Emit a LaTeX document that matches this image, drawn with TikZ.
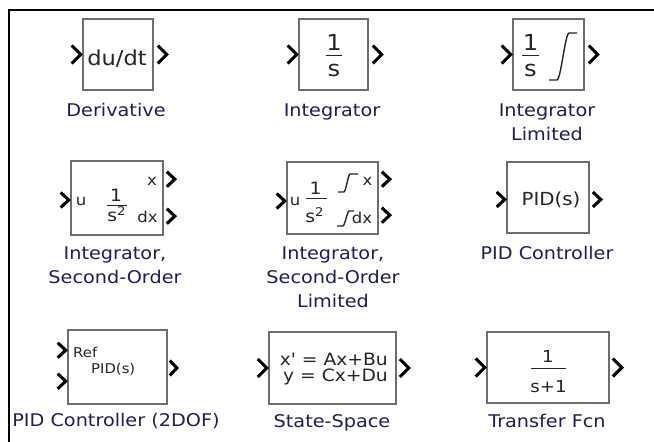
\documentclass[tikz,border=0pt]{standalone}
\usepackage{fontspec}
\usetikzlibrary{calc}
\newfontfamily\simfont{DejaVu Sans}[FakeStretch=1.1,Ligatures=TeXOff]
\definecolor{lblcol}{HTML}{1E1E5A}
\definecolor{ink}{HTML}{262626}
\definecolor{rim}{HTML}{6E6E6E}
\tikzset{
  blk/.style={draw=rim, line width=1.6pt, inner sep=0pt, fill=white},
  lbl/.style={text=lblcol, inner sep=0pt, align=center, font=\simfont\fontsize{17.5}{24}\selectfont},
  ico/.style={text=ink, inner sep=0pt, font=\simfont\fontsize{#1}{#1}\selectfont},
  ico/.default=16,
  bar/.style={draw=ink, line width=1.2pt},
  sat/.style={draw=ink, line width=1.4pt, line join=round},
  port/.style={draw=black, line width=3.1pt, line join=miter},
  pics/chev/.style 2 args={code={\draw[port] (-#1,-#2) -- (0,0) -- (-#1,#2);}},
}
\begin{document}
\begin{tikzpicture}[x=1pt,y=-1pt]
\useasboundingbox (0,0) rectangle (654,442);
\fill[white] (0,0) rectangle (654,442);
% outer frame
\draw[black, line width=2pt] (9,442) -- (9,10) -- (654,10);

% ---------- row 1 ----------
\node[blk, minimum width=70pt, minimum height=71pt] (der) at (118,54.5) {};
\node[ico=20.5, anchor=base] (derT) at (117,65) {du/dt};
\pic at ($(der.west)+(-1.5,0)$) {chev={9}{9}};
\pic at ($(der.east)+(13,0)$) {chev={9}{9}};
\node[lbl, anchor=base] (derL) at (116,116) {Derivative};

\node[blk, minimum width=69pt, minimum height=71pt] (int) at (333.5,54.5) {};
\node[ico=22, anchor=base] (intN) at (334,50) {1};
\node[ico=22, anchor=base] (intD) at (334,76) {s};
\draw[bar] (326,55.5) -- (342,55.5);
\pic at ($(int.west)+(-1.5,0)$) {chev={9}{9}};
\pic at ($(int.east)+(13,0)$) {chev={9}{9}};
\node[lbl, anchor=base] (intL) at (332,116) {Integrator};

\node[blk, minimum width=71pt, minimum height=71pt] (intlim) at (548.5,54.5) {};
\node[ico=22, anchor=base] (intlimN) at (530.5,50) {1};
\node[ico=22, anchor=base] (intlimD) at (530.5,76) {s};
\draw[bar] (522,55.5) -- (539,55.5);
\draw[sat] (549,80) -- (557,80) .. controls (561,79) and (565,34) .. (569,33) -- (577,33);
\pic at ($(intlim.west)+(-1.5,0)$) {chev={9}{9}};
\pic at ($(intlim.east)+(13,0)$) {chev={9}{9}};
% multi-line labels: the base anchor sits on the last line
\node[lbl, anchor=base] (intlimL) at (547,140) {Integrator\\Limited};

% ---------- row 2 ----------
\node[blk, minimum width=92pt, minimum height=74pt] (sec) at (117,198) {};
\node[ico=15, anchor=base] (secU) at (81,205) {u};
\node[ico=17, anchor=base] (secN) at (116,201) {1};
\draw[bar] (107,205.5) -- (127,205.5);
\node[ico=17, anchor=base] (secD) at (116.5,221) {s\raisebox{6pt}{\fontsize{12}{12}\selectfont 2}};
\node[ico=15, anchor=base] (secX) at (152,185) {x};
\node[ico=15, anchor=base] (secDX) at (147.5,222) {dx};
\pic at ($(sec.west)+(-1.5,2)$) {chev={8}{7.5}};
\pic at ($(sec.north east)+(11,19)$) {chev={8}{7.5}};
\pic at ($(sec.north east)+(11,56)$) {chev={8}{7.5}};
\node[lbl, anchor=base] (secL) at (115,283) {Integrator,\\Second-Order};

\node[blk, minimum width=91pt, minimum height=72pt] (seclim) at (332.5,198) {};
\node[ico=15, anchor=base] (seclimU) at (295,205) {u};
\node[ico=17, anchor=base] (seclimN) at (315.5,194) {1};
\draw[bar] (306,198.5) -- (327,198.5);
\node[ico=17, anchor=base] (seclimD) at (314.5,222) {s\raisebox{6pt}{\fontsize{12}{12}\selectfont 2}};
\draw[sat] (338,192) -- (344,192) .. controls (346,191) and (348,175) .. (350,174) -- (358,174);
\draw[sat] (337,226) -- (343,226) .. controls (345,225) and (347,212) .. (349,211) -- (354,211);
\node[ico=15, anchor=base] (seclimX) at (367.5,185) {x};
\node[ico=15, anchor=base] (seclimDX) at (362,223) {dx};
\pic at ($(seclim.west)+(-1.5,3)$) {chev={8}{7.5}};
\pic at ($(seclim.north east)+(11,18)$) {chev={8}{7.5}};
\pic at ($(seclim.north east)+(11,54)$) {chev={8}{7.5}};
\node[lbl, anchor=base] (seclimL) at (333,307) {Integrator,\\Second-Order\\Limited};

\node[blk, minimum width=82pt, minimum height=71pt] (pid) at (548,197.5) {};
\node[ico=18, anchor=base] (pidT) at (551,205) {PID(s)};
\pic at ($(pid.west)+(-1.5,2)$) {chev={8}{7.5}};
\pic at ($(pid.east)+(11,2)$) {chev={8}{7.5}};
\node[lbl, anchor=base] (pidL) at (547,259) {PID Controller};

% ---------- row 3 ----------
\node[blk, minimum width=99pt, minimum height=74pt] (pidtwo) at (117.5,367) {};
\node[ico=13.5, anchor=base west] (pidtwoR) at (73,357) {Ref};
\node[ico=13.5, anchor=base west] (pidtwoT) at (91,373) {PID(s)};
\pic at ($(pidtwo.north west)+(-1.5,21)$) {chev={8}{7.5}};
\pic at ($(pidtwo.north west)+(-1.5,52)$) {chev={8}{7.5}};
\pic at ($(pidtwo.east)+(9,1)$) {chev={7}{7.5}};
\node[lbl, anchor=base] (pidtwoL) at (116,426) {PID Controller (2DOF)};

\node[blk, minimum width=127pt, minimum height=72pt] (ss) at (332.5,368) {};
\node[ico=17, anchor=base east] (ssA) at (388,365) {x' = Ax+Bu};
\node[ico=17, anchor=base east] (ssB) at (388,381) {y = Cx+Du};
\pic at ($(ss.west)+(-1.5,0)$) {chev={9}{9}};
\pic at ($(ss.east)+(12,0)$) {chev={9}{9}};
\node[lbl, anchor=base] (ssL) at (332,427) {State-Space};

\node[blk, minimum width=122pt, minimum height=71pt] (tf) at (548,367.5) {};
\node[ico=16.5, anchor=base] (tfN) at (548,362) {1};
\draw[bar] (531,368.5) -- (566,368.5);
\node[ico=16.5, anchor=base] (tfD) at (548.5,392) {s+1};
\pic at ($(tf.west)+(-1.5,0)$) {chev={9}{9}};
\pic at ($(tf.east)+(12,0)$) {chev={9}{9}};
\node[lbl, anchor=base] (tfL) at (547,427) {Transfer Fcn};
\end{tikzpicture}
\end{document}
